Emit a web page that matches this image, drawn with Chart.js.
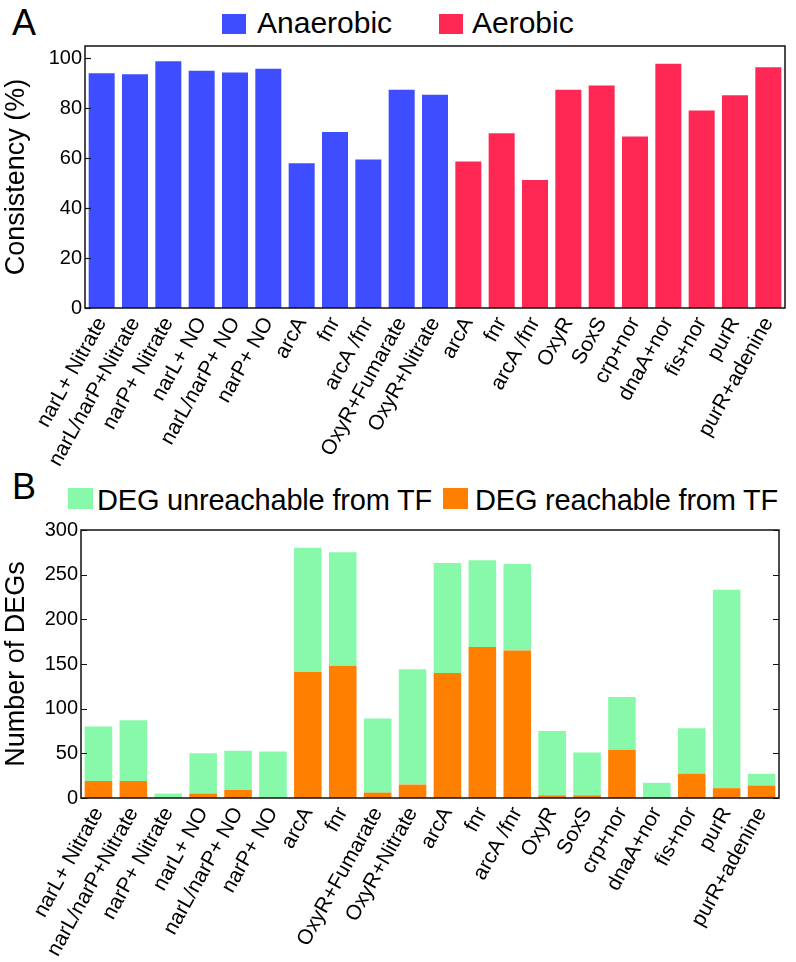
<!DOCTYPE html>
<html>
<head>
<meta charset="utf-8">
<script src="https://cdn.jsdelivr.net/npm/chart.js@4.4.1/dist/chart.umd.min.js"></script>
<style>
  html, body { margin: 0; padding: 0; background: #fff; }
  body { width: 796px; height: 962px; position: relative; overflow: hidden;
         font-family: "Liberation Sans", Arial, sans-serif; color: #000; }
  .panel { position: absolute; font-size: 36px; line-height: 36px; }
  .legend { position: absolute; font-size: 30px; line-height: 30px; white-space: nowrap; }
  .legend.b { font-size: 29px; line-height: 29px; letter-spacing: -0.2px; }
  .swatch { position: absolute; }
  #topWrap { position: absolute; left: 0; top: 0; width: 796px; height: 470px; }
  #botWrap { position: absolute; left: 0; top: 515px; width: 796px; height: 447px; }
</style>
</head>
<body>
  <div class="panel" style="left:12px; top:5px;">A</div>
  <div class="swatch" style="left:222px; top:14px; width:24px; height:20px; background:#3d4dff;"></div>
  <div class="legend" style="left:257px; top:8px;">Anaerobic</div>
  <div class="swatch" style="left:439px; top:14px; width:24px; height:20px; background:#ff2855;"></div>
  <div class="legend" style="left:472px; top:8px;">Aerobic</div>

  <div class="panel" style="left:12px; top:469px;">B</div>
  <div class="swatch" style="left:68px; top:488px; width:25px; height:21px; background:#88f9aa;"></div>
  <div class="legend b" style="left:97px; top:486px;">DEG unreachable from TF</div>
  <div class="swatch" style="left:443px; top:488px; width:25px; height:21px; background:#ff7f00;"></div>
  <div class="legend b" style="left:475px; top:486px;">DEG reachable from TF</div>

  <div id="topWrap"><canvas id="topChart"></canvas></div>
  <div id="botWrap"><canvas id="botChart"></canvas></div>

<script>
/* =========================
   Data
========================= */
const topLabels = [
  "narL+ Nitrate", "narL/narP+Nitrate", "narP+ Nitrate", "narL+ NO", "narL/narP+ NO", "narP+ NO",
  "arcA", "fnr", "arcA /fnr", "OxyR+Fumarate", "OxyR+Nitrate",
  "arcA", "fnr", "arcA /fnr", "OxyR", "SoxS", "crp+nor", "dnaA+nor", "fis+nor", "purR", "purR+adenine"
];
// consistency (%), anaerobic = first 11 bars, aerobic = last 10
const anaerobic = [94.1, 93.7, 98.9, 95.1, 94.4, 95.9, 58.0, 70.5, 59.5, 87.5, 85.5];
const aerobic = [58.7, 70.0, 51.3, 87.5, 89.2, 68.7, 97.9, 79.2, 85.3, 96.5];
const topTicks = [0, 20, 40, 60, 80, 100];

const botLabels = [
  "narL+ Nitrate", "narL/narP+Nitrate", "narP+ Nitrate", "narL+ NO", "narL/narP+ NO", "narP+ NO",
  "arcA", "fnr", "OxyR+Fumarate", "OxyR+Nitrate",
  "arcA", "fnr", "arcA /fnr", "OxyR", "SoxS", "crp+nor", "dnaA+nor", "fis+nor", "purR", "purR+adenine"
];
const reachable = [19, 19, 0, 5, 9, 0, 141, 148, 6, 15, 140, 169, 165, 3, 3, 54, 0, 27, 11, 14];
const unreachable = [61, 68, 5, 45, 44, 52, 139, 127, 83, 129, 123, 97, 97, 72, 48, 59, 17, 51, 222, 13];
const botTicks = [0, 50, 100, 150, 200, 250, 300];

/* =========================
   Helpers
========================= */
const FONT = "'Liberation Sans', Arial, sans-serif";

// box around the plot + short inward tick marks
function frameTicks(sides) {
  return {
    id: "frameTicks",
    afterDatasetsDraw(chart) {
      const { ctx, chartArea: a } = chart;
      const y = chart.scales.y;
      ctx.save();
      ctx.strokeStyle = "#111";
      ctx.lineWidth = 1.5;
      ctx.strokeRect(a.left, a.top, a.right - a.left, a.bottom - a.top);
      ctx.lineWidth = 1.2;
      y.ticks.forEach(t => {
        const py = Math.round(y.getPixelForValue(t.value)) + 0.5;
        ctx.beginPath();
        if (sides.includes("left")) { ctx.moveTo(a.left, py); ctx.lineTo(a.left + 6, py); }
        if (sides.includes("right")) { ctx.moveTo(a.right, py); ctx.lineTo(a.right - 6, py); }
        ctx.stroke();
      });
      ctx.restore();
    }
  };
}

function xAxis(height) {
  return {
    stacked: true,
    offset: true,
    grid: { display: false, drawTicks: false },
    border: { display: false },
    ticks: {
      autoSkip: false, maxRotation: 61, minRotation: 61, padding: 5,
      color: "#000", font: { family: FONT, size: 21 }
    },
    afterFit: s => { s.height = height; }
  };
}

function yAxis(width, max, tickVals, title, titlePad) {
  return {
    stacked: true,
    min: 0, max,
    grid: { display: false, drawTicks: false },
    border: { display: false },
    ticks: { padding: 3, color: "#000", font: { family: FONT, size: 20 } },
    afterBuildTicks: s => { s.ticks = tickVals.map(v => ({ value: v })); },
    title: { display: true, text: title, color: "#000", padding: titlePad,
             font: { family: FONT, size: 27 } },
    afterFit: s => { s.width = width; }
  };
}

/* =========================
   A: consistency
========================= */
new Chart(document.getElementById("topChart"), {
  type: "bar",
  data: {
    labels: topLabels,
    datasets: [
      { label: "Anaerobic", data: [...anaerobic, ...aerobic.map(() => null)], backgroundColor: "#3d4dff" },
      { label: "Aerobic", data: [...anaerobic.map(() => null), ...aerobic], backgroundColor: "#ff2855" }
    ]
  },
  options: {
    responsive: true,
    maintainAspectRatio: false,
    animation: false,
    barPercentage: 0.78,
    categoryPercentage: 1,
    layout: { padding: { top: 46, right: 11, left: 0, bottom: 0 } },
    plugins: { legend: { display: false }, tooltip: { enabled: false } },
    scales: {
      x: xAxis(162),
      y: yAxis(85, 105, topTicks, "Consistency (%)", { top: 0, bottom: 6 })
    }
  },
  plugins: [frameTicks(["left"])]
});

/* =========================
   B: number of DEGs
========================= */
new Chart(document.getElementById("botChart"), {
  type: "bar",
  data: {
    labels: botLabels,
    datasets: [
      { label: "DEG reachable from TF", data: reachable, backgroundColor: "#ff7f00" },
      { label: "DEG unreachable from TF", data: unreachable, backgroundColor: "#88f9aa" }
    ]
  },
  options: {
    responsive: true,
    maintainAspectRatio: false,
    animation: false,
    barPercentage: 0.79,
    categoryPercentage: 1,
    layout: { padding: { top: 10, right: 17, left: 0, bottom: 0 } },
    plugins: { legend: { display: false }, tooltip: { enabled: false } },
    scales: {
      x: xAxis(164),
      y: yAxis(81, 300, botTicks, "Number of DEGs", { top: 0, bottom: 4 })
    }
  },
  plugins: [frameTicks(["left", "right"])]
});
</script>
</body>
</html>
